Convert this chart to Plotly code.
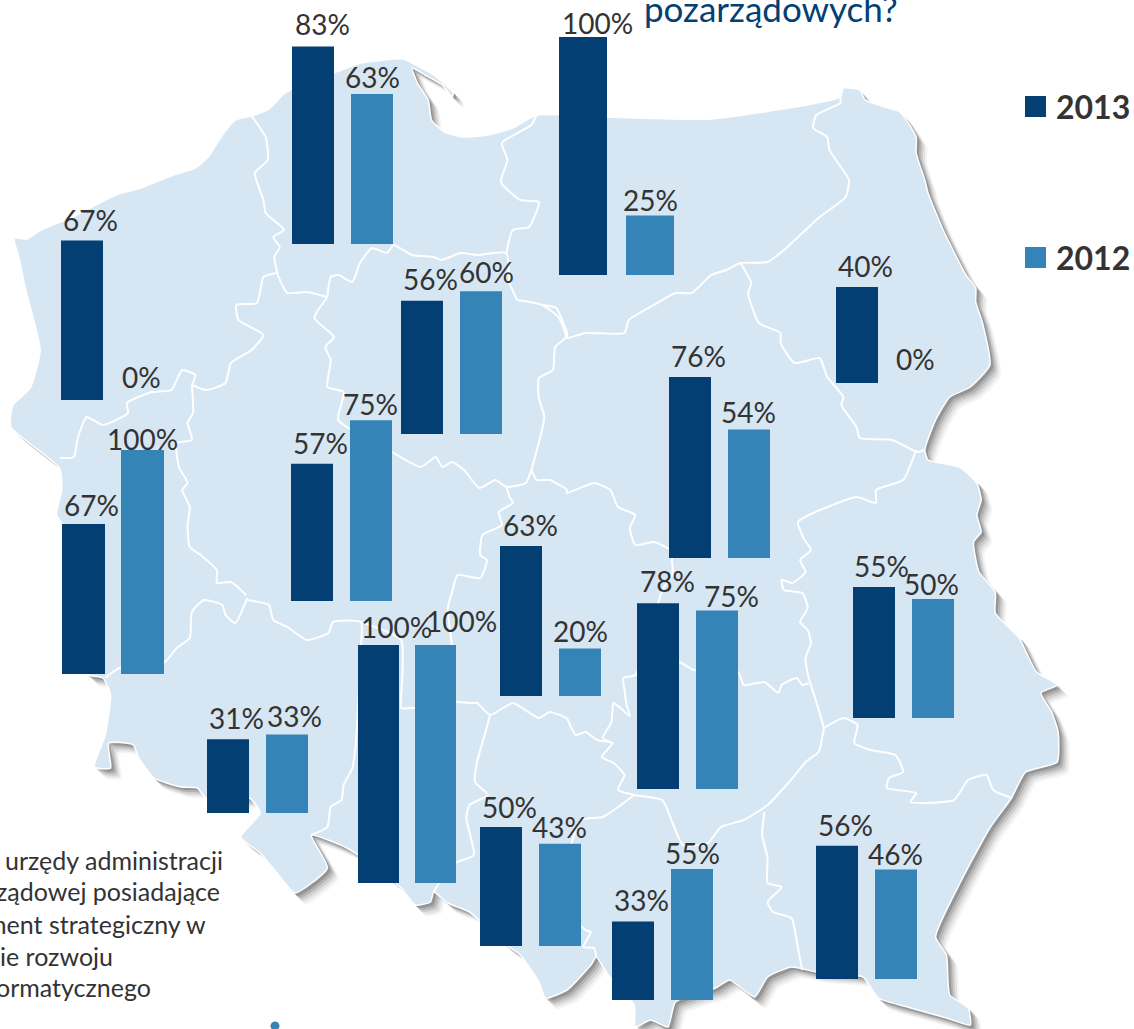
import plotly.graph_objects as go

W, H = 1134, 1029
DARK, LIGHT, LAND = "#033F72", "#3584B7", "#D6E6F3"
INK, TITLE = "#333333", "#034073"
FONT = "Lato"

# ---- data ----
regions = ["Zachodniopomorskie", "Pomorskie", "Kujawsko-Pomorskie", "Wielkopolskie", "Lubuskie",
           "Warmińsko-Mazurskie", "Podlaskie", "Mazowieckie", "Łódzkie", "Świętokrzyskie",
           "Lubelskie", "Dolnośląskie", "Opolskie", "Śląskie", "Małopolskie", "Podkarpackie"]
years = ["2013", "2012"]
values_2013 = [67, 83, 56, 57, 67, 100, 40, 76, 63, 78, 55, 31, 100, 50, 33, 56]
values_2012 = [0, 63, 60, 75, 100, 25, 0, 54, 20, 75, 50, 33, 100, 43, 55, 46]

# ---- placement of each small chart on the map (pixels) ----
group_left = [61, 292, 401, 291, 62, 559, 836, 669, 500, 637, 853, 207, 358, 480, 612, 816]
group_base = [400, 244, 434, 601, 674, 275, 383, 558, 696, 789, 718, 813, 883, 946, 1000, 979]
bar_width = [42, 42, 42, 42, 43, 48, 42, 42, 42, 42, 42, 42, 41, 42, 42, 42]
bar_gap = [17, 17, 17, 17, 16, 19, 17, 17, 17, 17, 17, 17, 16, 17, 17, 17]
full_height = [238, 238, 238, 241, 224, 238, 240, 238, 238, 238, 238, 238, 238, 238, 238, 238]
dx_2013 = [8, 9, 8, 8, 8, 14, 8, 8, 9, 9, 8, 8, 18, 8, 8, 8]
dy_2013 = [-21, -22, -22, -21, -19, -14, -21, -21, -21, -22, -21, -21, -18, -20, -21, -21]
dx_2012 = [0, 0, 5, -1, 0, 0, -1, -1, 0, 14, -1, 7, 26, -1, 0, -1]
dy_2012 = [-23, -17, -19, -16, -11, -16, -24, -17, -17, -15, -15, -18, -24, -17, -16, -16]

title_text = "pozarządowych?"
note_lines = ["urzędy administracji", "ządowej posiadające", "ment strategiczny w", "ie rozwoju", "ormatycznego"]
note_right = [225, 222, 208, 115, 153]
note_y = [860, 891, 924, 956, 987]

# ---- base map ----
outline = [(13,238),(25,239),(38,230),(67,217),(107,195),(130,188),(160,175),(180,168),(192,157),(207,132),(217,120),
 (232,116),(248,109),(263,93),(287,80),(308,73),(333,63),(372,59),(380,63),(400,75),(418,93),(417,97),(408,85),(392,75),
 (380,68),(385,83),(395,100),(398,120),(410,132),(427,137),(450,135),(473,128),(495,115),(523,115),
 (604,117),(700,119),(819,97),(822,88),(837,90),(842,100),(860,107),(874,112),(889,137),(889,153),(897,180),(900,193),
 (914,230),(935,275),(944,288),(944,302),(950,322),(957,365),(939,387),(920,397),(907,420),(897,450),(900,460),(929,467),
 (945,483),(949,500),(945,515),(949,532),(942,542),(947,572),(962,592),(962,613),(984,638),(1000,672),(1019,685),(1004,693),
 (1014,712),(1020,732),(1019,762),(990,772),(977,798),(957,828),(930,882),(907,937),(917,955),(920,995),(937,1008),(939,1025),
 (917,1018),(884,1008),(854,998),(840,977),(797,972),(774,967),(752,977),(740,997),(717,980),(704,988),(667,1002),(660,1027),
 (644,1020),(630,1027),(629,1005),(605,975),(594,957),(589,965),(523,990),(503,998),(497,982),(480,955),(467,945),(433,912),
 (413,903),(400,892),(397,902),(383,905),(370,888),(353,873),(320,848),(287,835),(302,868),(272,893),(257,875),(240,853),
 (222,837),(240,813),(230,798),(190,798),(182,788),(167,787),(142,778),(128,758),(123,745),(100,743),(102,768),(87,767),
 (97,735),(102,695),(95,678),(80,674),(58,525),(52,515),(57,490),(55,468),(10,427),(12,405),(28,388),(37,350),(23,287),
 (18,260),(13,238)]

borders = [
 [(232,116),(245,137),(247,160),(235,173),(243,200),(245,213),(262,230),(252,237),(258,247),(253,257),(257,277),(265,293),(283,292),(302,297)],
 [(255,273),(243,277),(237,303),(218,305),(220,320),(243,335),(232,350),(213,363),(208,383),(190,390),(177,385)],
 [(177,385),(180,375),(168,370),(158,390),(140,392),(117,403),(118,413),(95,425),(80,417),(72,437),(68,457),(55,458)],
 [(177,385),(178,413),(173,423),(177,440),(163,443),(165,467),(173,483),(168,490),(175,507),(173,525),(175,547),(185,555),(200,570),(200,583),(213,582),(227,595)],
 [(97,678),(110,668),(152,662),(163,648),(175,638),(177,612),(188,600),(205,605),(208,615),(217,623),(228,598)],
 [(228,600),(248,605),(252,620),(265,627),(283,640),(303,633),(307,622),(333,622),(333,645),(328,745),(325,768),(317,785),(315,800),(305,807),(302,827),(287,835)],
 [(333,622),(370,640),(370,697),(370,708),(382,708),(420,702),(435,703),(440,703),(452,715),(473,703),(497,718),(507,712),(523,718),(567,718)],
 [(417,645),(413,608),(417,592),(422,575),(443,578),(449,560),(443,555),(445,535),(463,525),(460,512),(473,503),(470,497),(467,487)],
 [(417,645),(420,702)],
 [(302,297),(290,318),(308,337),(300,347),(305,360),(302,387),(317,392),(312,420),(363,453),(388,467),(402,457),(408,467),(417,462),(428,470),(442,488),(457,480),(467,487),(485,483),(490,470),(502,417),(497,398),(497,378),(510,370),(512,347),(522,337),(515,317),(500,305),(477,300)],
 [(302,297),(305,277),(312,275),(325,282),(332,263),(343,248),(357,253),(363,245),(380,255),(400,257),(407,260),(425,253),(440,255),(467,253),(470,283),(477,300)],
 [(495,115),(490,125),(463,143),(468,160),(462,182),(480,200),(497,202),(488,227),(473,230),(467,253)],
 [(500,305),(513,308),(523,333),(567,338),(584,333),(620,333),(624,320),(647,305),(667,293),(682,293),(700,275),(714,270),(727,263),(752,262),(767,250),(784,233),(800,217),(824,197),(827,180),(809,150),(807,137),(794,128),(797,115),(819,103),(819,97)],
 [(727,263),(737,283),(734,293),(744,323),(764,333),(764,343),(777,363),(800,358),(807,377),(822,397),(820,405),(834,427),(837,438),(867,440),(890,452),(897,450)],
 [(889,450),(877,480),(852,490),(852,503),(834,497),(790,515),(780,522),(785,538),(792,550),(782,560),(787,572),(775,583),(765,580),(767,590),(784,593),(789,608),(782,622),(789,630),(792,643),(787,658),(790,678),(797,702),(804,728)],
 [(804,728),(822,718),(835,725),(832,743),(847,750),(870,755),(877,772),(864,778),(862,788),(889,793),(884,802),(924,800),(937,780),(954,775),(960,790),(977,798)],
 [(804,728),(799,752),(787,762),(775,778),(752,805),(730,820),(709,827),(697,843),(674,845),(664,822),(655,800),(629,795),(614,790),(620,775),(610,763),(599,757),(609,743),(595,740),(584,732),(575,735),(567,718)],
 [(749,812),(747,835),(752,858),(752,883),(765,887),(752,902),(757,912),(774,918),(780,948),(784,970)],
 [(452,715),(447,735),(440,762),(438,782),(450,795),(433,805),(430,818),(437,855),(420,863),(405,883),(400,892)],
 [(629,795),(600,817),(580,820),(560,900),(584,930),(589,932),(582,947),(592,948),(594,957)],
 [(490,470),(495,480),(507,480),(523,490),(567,493),(592,483),(607,490),(614,507),(630,515),(625,528),(630,545),(647,542),(662,550),(664,562),(664,575),(655,590),(630,675),(619,678),(620,690),(622,705),(625,716),(610,703),(608,722),(600,738),(609,743)],
 [(630,675),(670,662),(684,670),(725,672),(730,685),(749,682),(762,693),(765,685),(779,678),(784,685),(790,683)],
]


def true_x(x):
    # the tracing crops were stretched horizontally: undo that
    return x * 1.0842 if x < 545 else 567 + (x - 567) * 1.0842


fig = go.Figure()
mx = [true_x(p[0]) for p in outline]
my = [p[1] for p in outline]

# soft shadow under the map
for off, alpha in [(11, 0.06), (9, 0.09), (7, 0.13), (5, 0.18), (3, 0.25)]:
    fig.add_trace(go.Scatter(x=[v + off for v in mx], y=[v + off for v in my], mode="lines", fill="toself",
                             fillcolor=f"rgba(60,60,60,{alpha})", line=dict(width=0, shape="spline", smoothing=0.5),
                             hoverinfo="skip", showlegend=False))
fig.add_trace(go.Scatter(x=mx, y=my, mode="lines", fill="toself", fillcolor=LAND,
                         line=dict(color="white", width=1.5, shape="spline", smoothing=0.5),
                         hoverinfo="skip", showlegend=False))
bx, by = [], []
for seg in borders:
    bx += [true_x(p[0]) for p in seg] + [None]
    by += [p[1] for p in seg] + [None]
fig.add_trace(go.Scatter(x=bx, y=by, mode="lines", line=dict(color="white", width=2, shape="spline", smoothing=0.5),
                         hoverinfo="skip", showlegend=False))
fig.add_trace(go.Scatter(x=[275], y=[1026], mode="markers", marker=dict(color=LIGHT, size=9),
                         hoverinfo="skip", showlegend=False))

layout = dict(
    width=W, height=H, margin=dict(l=0, r=0, t=0, b=0), paper_bgcolor="white", plot_bgcolor="rgba(0,0,0,0)",
    showlegend=False, hovermode=False,
    xaxis=dict(domain=[0, 1], range=[0, W], visible=False, fixedrange=True),
    yaxis=dict(domain=[0, 1], range=[H, 0], visible=False, fixedrange=True),
)
annotations = []

for i, name in enumerate(regions):
    n = i + 2
    x0 = group_left[i] - bar_gap[i] / 2
    x1 = x0 + 2 * (bar_width[i] + bar_gap[i])
    base, full = group_base[i], full_height[i]
    layout[f"xaxis{n}"] = dict(domain=[x0 / W, x1 / W], type="category", categoryorder="array", categoryarray=years,
                               range=[-0.5, 1.5], visible=False, anchor=f"y{n}", fixedrange=True)
    layout[f"yaxis{n}"] = dict(domain=[1 - base / H, 1 - (base - full) / H], range=[0, 100], visible=False,
                               anchor=f"x{n}", fixedrange=True)
    vals = [values_2013[i], values_2012[i]]
    fig.add_trace(go.Bar(x=years, y=vals, name=name, marker=dict(color=[DARK, LIGHT], line=dict(width=0)),
                         width=bar_width[i] / (bar_width[i] + bar_gap[i]), xaxis=f"x{n}", yaxis=f"y{n}",
                         hoverinfo="skip", showlegend=False))
    for k, (v, dx, dy) in enumerate(zip(vals, (dx_2013[i], dx_2012[i]), (dy_2013[i], dy_2012[i]))):
        annotations.append(dict(text=f"{v}%", x=k, y=v, xref=f"x{n}", yref=f"y{n}", xshift=dx, yshift=-dy,
                                xanchor="center", yanchor="middle", showarrow=False,
                                font=dict(family=FONT, size=28, color=INK)))

annotations.append(dict(text=title_text, x=771, y=31, xref="x", yref="y", xanchor="center", yanchor="bottom",
                        showarrow=False, font=dict(family=FONT, size=35, color=TITLE)))
for year, y in zip(years, (106, 257)):
    annotations.append(dict(text=f"<b>{year}</b>", x=1054, y=y, xref="x", yref="y", xanchor="left", yanchor="middle",
                            showarrow=False, font=dict(family=FONT, size=32, color=INK)))
for line, xr, y in zip(note_lines, note_right, note_y):
    annotations.append(dict(text=line, x=xr, y=y, xref="x", yref="y", xanchor="right", yanchor="middle",
                            showarrow=False, font=dict(family=FONT, size=25, color=INK)))

layout["annotations"] = annotations
layout["shapes"] = [dict(type="rect", xref="x", yref="y", x0=1025, x1=1046, y0=y, y1=y + 21,
                         fillcolor=c, line=dict(width=0))
                    for y, c in ((96, DARK), (247, LIGHT))]
fig.update_layout(**layout)
fig.write_html("out.html", config={"displayModeBar": False},
               post_script="document.body.style.margin='0';document.documentElement.style.overflow='hidden';")
